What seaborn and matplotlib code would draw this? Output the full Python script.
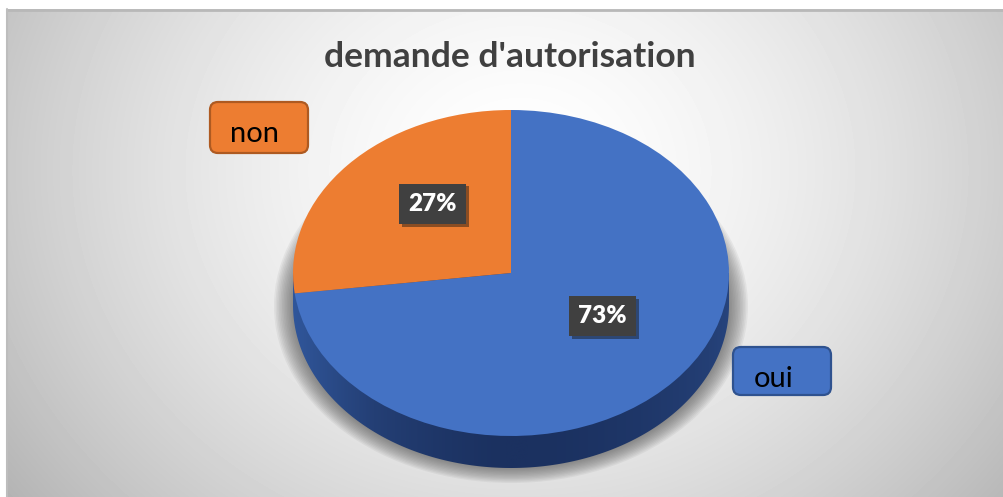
import numpy as np
import matplotlib
matplotlib.use("Agg")
import matplotlib.pyplot as plt
import matplotlib.patheffects as pe
from matplotlib.patches import Polygon, FancyBboxPatch, Ellipse
import seaborn as sns

# data
labels = ["oui", "non"]
values = [73, 27]
colors = ["#4472C4", "#ED7D31"]
edge_colors = ["#2F528F", "#AE5A21"]
title = "demande d'autorisation"

sns.set_style("white")
plt.rcParams["font.family"] = ["Lato", "DejaVu Sans"]

W, H = 1004, 497
fig = plt.figure(figsize=(W / 100, H / 100), dpi=100)

# background with radial gradient (pixel coords)
bg = fig.add_axes([0, 0, 1, 1])
bg.set_xlim(0, W)
bg.set_ylim(H, 0)
bg.axis("off")
x0, y0 = 7, 9
yy, xx = np.mgrid[y0:H, x0:W]
r = np.sqrt(((xx - 520) / 560) ** 2 + ((yy - 170) / 480) ** 2)
shade = 1 - 0.24 * np.clip(r, 0, 1.4) ** 1.6
bg.imshow(shade, cmap="gray", vmin=0, vmax=1, extent=(x0, W, H, y0),
          interpolation="bilinear", aspect="auto")
bg.plot([x0, W], [y0 + 1, y0 + 1], color="#b8b8b8", lw=2)
bg.plot([x0 + 0.5, x0 + 0.5], [y0, H], color="#bdbdbd", lw=1.5)

# soft shadow under the pie side
for i in range(12):
    bg.add_patch(Ellipse((511, 306), 474 - i * 3.2, 354 - i * 2.6,
                         fc="#505050", ec="none", alpha=0.07))

# label boxes
boxes = {"non": (210, 102, 98, 51, 255, 134), "oui": (733, 347, 98, 48, 774, 379)}
for lab, col, ecol in zip(labels, colors, edge_colors):
    bx, by, bw, bh, tx, ty = boxes[lab]
    bg.add_patch(FancyBboxPatch((bx, by), bw, bh,
                                boxstyle="round,pad=0,rounding_size=8",
                                fc=col, ec=ecol, lw=1.6))
    bg.text(tx, ty, lab, ha="center", va="center", fontsize=21, color="black")

# title
fig.text(510 / W, (H - 67) / H, title, ha="center", va="baseline",
         fontsize=25.5, fontweight="bold", color="#404040")

# pie axes (ellipse due to tilted view)
ax = fig.add_axes([293 / W, (H - 468) / H, 436 / W, 358 / H])
d = 32 / 163

# side of the 3D pie
t = np.linspace(0, -np.pi, 200)
pts = [(1, 0)] + list(zip(np.cos(t), -d + np.sin(t))) + [(-1, 0)]
side = Polygon(pts, closed=True, fc="none", ec="none", transform=ax.transData)
ax.add_patch(side)
gx = np.linspace(-1, 1, 300)
g = (np.clip(-gx, 0, 1) ** 1.5 * 1.0 + np.clip(gx, 0, 1) ** 2 * 0.6)[None, :] * np.ones((50, 1))
side_cmap = matplotlib.colors.LinearSegmentedColormap.from_list(
    "side", ["#1b3160", "#243f75", "#30569a"])
im = ax.imshow(g, cmap=side_cmap, vmin=0, vmax=1, extent=(-1, 1, -1 - d, 0),
               aspect="auto", interpolation="bilinear")
im.set_clip_path(side)

wedges, texts, autotexts = ax.pie(
    values, colors=colors, startangle=90, counterclock=False,
    autopct="%1.0f%%", pctdistance=0.52, radius=1,
    wedgeprops=dict(linewidth=0),
    textprops=dict(color="white", fontsize=17.5, fontweight="heavy"))
ax.set_aspect("auto")
ax.set_xlim(-1, 1)
ax.set_ylim(-1 - d, 1)
ax.axis("off")

for at in autotexts:
    px, py = at.get_position()
    at.set_position((px + 0.03, py + 0.08))
    at.set_bbox(dict(boxstyle="square,pad=0.38", fc="#404040", ec="none"))
    at.get_bbox_patch().set_path_effects(
        [pe.SimplePatchShadow(offset=(2, -2), alpha=0.45), pe.Normal()])

fig.savefig("out.png", dpi=100, facecolor="white")
